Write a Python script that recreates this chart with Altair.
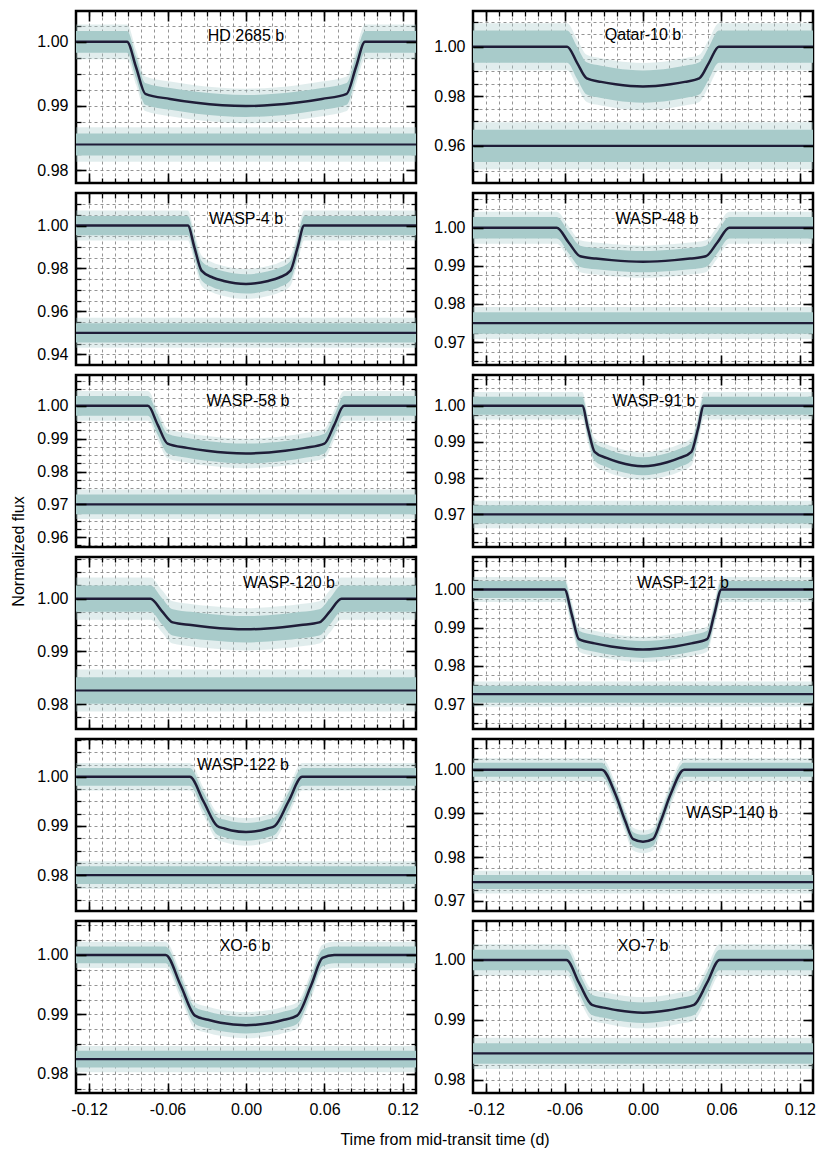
import math
import altair as alt
import pandas as pd

NAMES = ["HD 2685 b", "Qatar-10 b", "WASP-4 b", "WASP-48 b", "WASP-58 b", "WASP-91 b",
         "WASP-120 b", "WASP-121 b", "WASP-122 b", "WASP-140 b", "XO-6 b", "XO-7 b"]

# transit model curves (time in d, normalized flux)
HD2685_T = [-0.13, -0.091, -0.084, -0.077, -0.058, -0.038, 0.0, 0.038, 0.058, 0.077, 0.084, 0.091, 0.13]
HD2685_F = [1.0, 1.0, 0.9960, 0.9919, 0.9911, 0.9905, 0.9900, 0.9905, 0.9911, 0.9919, 0.9960, 1.0, 1.0]
QATAR10_T = [-0.13, -0.058, -0.0505, -0.043, -0.032, -0.021, 0.0, 0.021, 0.032, 0.043, 0.0505, 0.058, 0.13]
QATAR10_F = [1.0, 1.0, 0.9936, 0.9872, 0.9858, 0.9848, 0.9839, 0.9848, 0.9858, 0.9872, 0.9936, 1.0, 1.0]
WASP4_T = [-0.13, -0.0445, -0.0393, -0.034, -0.0255, -0.017, 0.0, 0.017, 0.0255, 0.034, 0.0393, 0.0445, 0.13]
WASP4_F = [1.0, 1.0, 0.9895, 0.9790, 0.9758, 0.9742, 0.9728, 0.9742, 0.9758, 0.9790, 0.9895, 1.0, 1.0]
WASP48_T = [-0.13, -0.066, -0.057, -0.048, -0.036, -0.024, 0.0, 0.024, 0.036, 0.048, 0.057, 0.066, 0.13]
WASP48_F = [1.0, 1.0, 0.9962, 0.9925, 0.9919, 0.9915, 0.9911, 0.9915, 0.9919, 0.9925, 0.9962, 1.0, 1.0]
WASP58_T = [-0.13, -0.075, -0.0675, -0.060, -0.045, -0.030, 0.0, 0.030, 0.045, 0.060, 0.0675, 0.075, 0.13]
WASP58_F = [1.0, 1.0, 0.9942, 0.9885, 0.9872, 0.9863, 0.9855, 0.9863, 0.9872, 0.9885, 0.9942, 1.0, 1.0]
WASP91_T = [-0.13, -0.0465, -0.042, -0.037, -0.028, -0.0185, 0.0, 0.0185, 0.028, 0.037, 0.042, 0.0465, 0.13]
WASP91_F = [1.0, 1.0, 0.9936, 0.9873, 0.9856, 0.9844, 0.9833, 0.9844, 0.9856, 0.9873, 0.9936, 1.0, 1.0]
WASP120_T = [-0.13, -0.073, -0.0645, -0.056, -0.042, -0.028, 0.0, 0.028, 0.042, 0.056, 0.0645, 0.073, 0.13]
WASP120_F = [1.0, 1.0, 0.9977, 0.9955, 0.9950, 0.9946, 0.9942, 0.9946, 0.9950, 0.9955, 0.9977, 1.0, 1.0]
WASP121_T = [-0.13, -0.060, -0.0545, -0.049, -0.037, -0.0245, 0.0, 0.0245, 0.037, 0.049, 0.0545, 0.060, 0.13]
WASP121_F = [1.0, 1.0, 0.9935, 0.9870, 0.9859, 0.9851, 0.9843, 0.9851, 0.9859, 0.9870, 0.9935, 1.0, 1.0]
WASP122_T = [-0.13, -0.043, -0.0325, -0.022, -0.0165, -0.011, 0.0, 0.011, 0.0165, 0.022, 0.0325, 0.043, 0.13]
WASP122_F = [1.0, 1.0, 0.9950, 0.9900, 0.9895, 0.9891, 0.9888, 0.9891, 0.9895, 0.9900, 0.9950, 1.0, 1.0]
WASP140_T = [-0.13, -0.0315, -0.021, -0.0135, -0.0075, 0.0, 0.0075, 0.0135, 0.021, 0.0315, 0.13]
WASP140_F = [1.0, 1.0, 0.9943, 0.9882, 0.9841, 0.9835, 0.9841, 0.9882, 0.9943, 1.0, 1.0]
XO6_T = [-0.13, -0.0615, -0.050, -0.039, -0.029, -0.0195, 0.0, 0.0195, 0.029, 0.039, 0.050, 0.0585, 0.0675, 0.13]
XO6_F = [1.0, 1.0, 0.9949, 0.9898, 0.9891, 0.9886, 0.9882, 0.9886, 0.9891, 0.9898, 0.9950, 0.9995, 1.0, 1.0]
XO7_T = [-0.13, -0.0585, -0.049, -0.039, -0.029, -0.0195, 0.0, 0.0195, 0.029, 0.039, 0.049, 0.0585, 0.13]
XO7_F = [1.0, 1.0, 0.9962, 0.9925, 0.9920, 0.9916, 0.9912, 0.9916, 0.9920, 0.9925, 0.9962, 1.0, 1.0]

MODEL_T = [HD2685_T, QATAR10_T, WASP4_T, WASP48_T, WASP58_T, WASP91_T,
           WASP120_T, WASP121_T, WASP122_T, WASP140_T, XO6_T, XO7_T]
MODEL_F = [HD2685_F, QATAR10_F, WASP4_F, WASP48_F, WASP58_F, WASP91_F,
           WASP120_F, WASP121_F, WASP122_F, WASP140_F, XO6_F, XO7_F]

# offset level of the residuals
RESID = [0.9840, 0.9600, 0.9500, 0.9750, 0.9700, 0.9700, 0.9826, 0.9726, 0.9800, 0.9743, 0.9825, 0.9844]
# half-width of the dense scatter cloud and of its sparse outskirts
NOISE_CORE = [0.0017, 0.0065, 0.0045, 0.0028, 0.0030, 0.0025, 0.0025, 0.0022, 0.0018, 0.0016, 0.0014, 0.0017]
NOISE_OUTER = [0.0027, 0.0095, 0.0070, 0.0042, 0.0045, 0.0038, 0.0040, 0.0033, 0.0028, 0.0026, 0.0022, 0.0026]

Y_LO = [0.978, 0.945, 0.935, 0.964, 0.957, 0.961, 0.9753, 0.9635, 0.9727, 0.9677, 0.9768, 0.9778]
Y_HI = [1.0048, 1.0144, 1.0152, 1.0091, 1.0094, 1.0085, 1.0079, 1.0085, 1.0077, 1.0070, 1.0057, 1.0065]
Y_MAJOR = [[0.98, 0.99, 1.00], [0.96, 0.98, 1.00], [0.94, 0.96, 0.98, 1.00], [0.97, 0.98, 0.99, 1.00],
           [0.96, 0.97, 0.98, 0.99, 1.00], [0.97, 0.98, 0.99, 1.00], [0.98, 0.99, 1.00],
           [0.97, 0.98, 0.99, 1.00], [0.98, 0.99, 1.00], [0.97, 0.98, 0.99, 1.00],
           [0.98, 0.99, 1.00], [0.98, 0.99, 1.00]]
Y_STEP = [0.0025, 0.005, 0.005, 0.0025, 0.0025, 0.0025, 0.0025, 0.0025, 0.0025, 0.0025, 0.0025, 0.0025]

X_MAJOR = [-0.12, -0.06, 0.0, 0.06, 0.12]
X_MINOR = [round(-0.12 + 0.01 * k, 2) for k in range(25)]

LABEL_X = [170, 170, 170, 184, 172, 181, 213, 210, 167, 259, 169, 170]
LABEL_Y = [25, 24, 26, 26, 26, 26, 26, 26, 26, 74, 25, 25]

W, H = 340, 172
GAP = 57
SCATTER = "#a8cbca"
LINE = "#1f1d38"
GRID = "#7a7a7a"


def y_minor(lo, hi, step):
    k0 = math.ceil(lo / step - 1e-9)
    k1 = math.floor(hi / step + 1e-9)
    vals = [round(k * step, 5) for k in range(k0, k1 + 1)]
    m = (hi - lo) * 0.004
    return [v for v in vals if lo + m < v < hi - m]


def panel(i):
    row, col = divmod(i, 2)
    bottom = row == 5
    lo, hi = Y_LO[i], Y_HI[i]
    xs = alt.Scale(domain=[-0.13, 0.13], nice=False, zero=False)
    ys = alt.Scale(domain=[lo, hi], nice=False, zero=False)
    ymin = y_minor(lo, hi, Y_STEP[i])
    common = dict(domain=False, tickColor="black", minExtent=0)
    minor = dict(tickSize={"expr": "-5"}, tickWidth=1.3, labels=False, title=None, zindex=0, **common)
    grid = dict(grid=True, gridDash=[3, 3], gridColor=GRID, gridWidth=0.8)
    major = dict(tickSize={"expr": "-10"}, tickWidth=1.6, grid=False, zindex=1, **common)

    ax_bmin = alt.Axis(orient="bottom", values=X_MINOR, maxExtent=0, **minor, **grid)
    ax_tmin = alt.Axis(orient="top", values=X_MINOR, grid=False, maxExtent=0, **minor)
    ax_lmin = alt.Axis(orient="left", values=ymin, maxExtent=0, **minor, **grid)
    ax_rmin = alt.Axis(orient="right", values=ymin, grid=False, maxExtent=0, **minor)

    if bottom and col == 0:
        btitle = dict(title="Time from mid-transit time (d)", titleX=(2 * W + GAP) / 2,
                      titleY=51, titleBaseline="alphabetic", titleAlign="center")
    else:
        btitle = dict(title=None)
    ax_bmaj = alt.Axis(orient="bottom", values=X_MAJOR, labels=bottom, labelPadding=18,
                       labelExpr="replace(format(datum.value, '.2f'), '\u2212', '-')",
                       labelFlush=False, **btitle, **major)
    if i == 4:
        ltitle = dict(title="Normalized flux", titleX=-50, titleY=176, titleAlign="center")
    else:
        ltitle = dict(title=None)
    ax_lmaj = alt.Axis(orient="left", values=Y_MAJOR[i], labels=True, labelPadding=18,
                       format=".2f", **ltitle, **major)
    ax_tmaj = alt.Axis(orient="top", values=X_MAJOR, labels=False, title=None, maxExtent=0, **major)
    ax_rmaj = alt.Axis(orient="right", values=Y_MAJOR[i], labels=False, title=None, maxExtent=0, **major)

    core, outer = NOISE_CORE[i], NOISE_OUTER[i]
    model = pd.DataFrame({"t": MODEL_T[i], "f": MODEL_F[i]})
    resid = pd.DataFrame({"t": [-0.13, 0.13], "f": [RESID[i], RESID[i]]})

    def bands(df):
        return alt.Chart(df).transform_calculate(
            lo1=f"datum.f - {core}", hi1=f"datum.f + {core}",
            lo2=f"datum.f - {outer}", hi2=f"datum.f + {outer}")

    m_outer = bands(model).mark_area(color=SCATTER, opacity=0.35, interpolate="monotone").encode(
        x=alt.X("t:Q", scale=xs, axis=ax_bmin), y=alt.Y("lo2:Q", scale=ys, axis=ax_lmin), y2="hi2:Q")
    m_core = bands(model).mark_area(color=SCATTER, opacity=1, interpolate="monotone").encode(
        x=alt.X("t:Q", scale=xs, axis=ax_tmin), y=alt.Y("lo1:Q", scale=ys, axis=ax_rmin), y2="hi1:Q")
    r_outer = bands(resid).mark_area(color=SCATTER, opacity=0.35).encode(
        x=alt.X("t:Q", scale=xs, axis=None), y=alt.Y("lo2:Q", scale=ys, axis=None), y2="hi2:Q")
    r_core = bands(resid).mark_area(color=SCATTER, opacity=1).encode(
        x=alt.X("t:Q", scale=xs, axis=None), y=alt.Y("lo1:Q", scale=ys, axis=None), y2="hi1:Q")
    m_line = alt.Chart(model).mark_line(color=LINE, strokeWidth=2.5, interpolate="monotone").encode(
        x=alt.X("t:Q", scale=xs, axis=ax_bmaj), y=alt.Y("f:Q", scale=ys, axis=ax_lmaj))
    r_line = alt.Chart(resid).mark_line(color=LINE, strokeWidth=2.2).encode(
        x=alt.X("t:Q", scale=xs, axis=ax_tmaj), y=alt.Y("f:Q", scale=ys, axis=ax_rmaj))
    label = alt.Chart(alt.Data(values=[{"name": NAMES[i]}])).mark_text(
        fontSize=16, font="Liberation Sans", color="black", align="center", baseline="middle").encode(
        x=alt.value(LABEL_X[i]), y=alt.value(LABEL_Y[i]), text="name:N")

    return alt.layer(m_outer, m_core, r_outer, r_core, m_line, r_line, label).resolve_axis(
        x="independent", y="independent").properties(width=W, height=H)


chart = alt.concat(*[panel(i) for i in range(12)], columns=2,
                   spacing={"row": 10, "column": GAP}, bounds="flush").properties(
    padding=0, background="white"
).configure(font="Liberation Sans").configure_view(
    stroke="black", strokeWidth=2.5, fill="white"
).configure_axis(
    labelFont="Liberation Sans", titleFont="Liberation Sans", labelFontSize=16, titleFontSize=16,
    titleFontWeight="normal", labelColor="black", titleColor="black"
)

chart.save("out.html", embed_options={"renderer": "svg", "actions": False})
